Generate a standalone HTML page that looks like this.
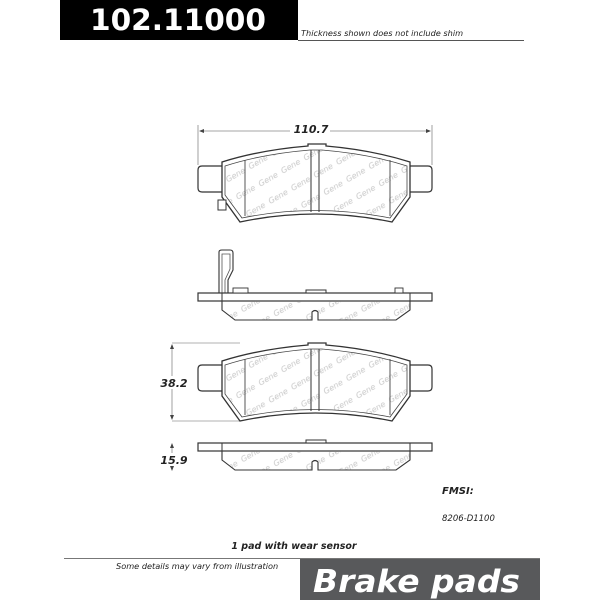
<!DOCTYPE html>
<html><head><style>
html,body{margin:0;padding:0;background:#fff;}
svg{display:block;}
text{font-family:"DejaVu Sans","Liberation Sans",sans-serif;}
</style></head><body>
<svg width="600" height="600" viewBox="0 0 600 600" xmlns="http://www.w3.org/2000/svg">
<defs>
<pattern id="wm" width="26" height="20" patternUnits="userSpaceOnUse" patternTransform="rotate(-30)">
<text x="2" y="12" font-size="8" font-style="italic" fill="#c8c8c8">Gene</text>
</pattern>
<g id="face">
  <path d="M222,166 L202,166 Q198,166 198,170 L198,188 Q198,192 202,192 L222,192" fill="none" stroke="#333" stroke-width="1.2"/>
  <path d="M410,166 L428,166 Q432,166 432,170 L432,188 Q432,192 428,192 L410,192" fill="none" stroke="#333" stroke-width="1.2"/>
  <path d="M222,162 Q260,150 308,146 L308,144 L326,144 L326,146 Q372,150 410,162 L410,197 L392,222 Q315,206 240,222 L222,197 Z" fill="#fff" stroke="#333" stroke-width="1.3"/>
  <path d="M225,166 Q262,154 310,150 L322,150 Q370,154 407,166 L407,195 L390,218 Q315,203 242,218 L225,195 Z" fill="url(#wm)" stroke="#444" stroke-width="0.8"/>
  <line x1="245" y1="160" x2="245" y2="216" stroke="#444" stroke-width="0.9"/>
  <line x1="390" y1="160" x2="390" y2="216" stroke="#444" stroke-width="0.9"/>
  <line x1="311" y1="150" x2="311" y2="212" stroke="#333" stroke-width="1"/>
  <line x1="319" y1="150" x2="319" y2="212" stroke="#333" stroke-width="1"/>
</g>
<g id="side">
  <rect x="198" y="293" width="234" height="8" fill="#fff" stroke="#333" stroke-width="1.2"/>
  <line x1="222" y1="293" x2="222" y2="301" stroke="#333"/>
  <line x1="410" y1="293" x2="410" y2="301" stroke="#333"/>
  <rect x="306" y="290" width="20" height="3" fill="#fff" stroke="#333"/>
  <path d="M222,301 L222,310 L235,320 L312,320 L312,312 Q315,309 318,312 L318,320 L396,320 L410,310 L410,301 Z" fill="url(#wm)" stroke="#333" stroke-width="1.1"/>
</g>
</defs>

<rect x="60" y="0" width="238" height="40" fill="#000"/>
<text x="178" y="30" font-size="29" font-weight="bold" fill="#fff" text-anchor="middle" textLength="176" lengthAdjust="spacingAndGlyphs">102.11000</text>
<line x1="298" y1="40.5" x2="524" y2="40.5" stroke="#555" stroke-width="1"/>
<text x="301" y="36" font-size="8.2" font-style="italic" fill="#222">Thickness shown does not include shim</text>

<line x1="198" y1="125" x2="198" y2="165" stroke="#888" stroke-width="0.8"/>
<line x1="432" y1="125" x2="432" y2="165" stroke="#888" stroke-width="0.8"/>
<line x1="200" y1="131" x2="430" y2="131" stroke="#888" stroke-width="0.8"/>
<path d="M199,131 l5,-2 l0,4 z M431,131 l-5,-2 l0,4 z" fill="#444"/>
<rect x="290" y="122" width="40" height="12" fill="#fff"/>
<text x="311" y="133" font-size="11" font-style="italic" font-weight="bold" fill="#222" text-anchor="middle">110.7</text>
<use href="#face"/>
<rect x="218" y="200" width="8" height="10" fill="#fff" stroke="#333" stroke-width="1"/>

<path d="M219,293 L219,252 Q219,250 222,250 L230,250 Q233,250 233,253 L233,270 L228,280 L228,293" fill="none" stroke="#333" stroke-width="1.1"/>
<path d="M222,293 L222,254 L230,254 L230,269 L225,280 L225,293" fill="none" stroke="#555" stroke-width="0.8"/>
<use href="#side"/>
<rect x="233" y="288" width="15" height="5" fill="#fff" stroke="#333" stroke-width="0.9"/>
<rect x="395" y="288" width="8" height="5" fill="#fff" stroke="#333" stroke-width="0.9"/>

<line x1="172" y1="343" x2="240" y2="343" stroke="#999" stroke-width="0.8"/>
<line x1="172" y1="421" x2="240" y2="421" stroke="#999" stroke-width="0.8"/>
<line x1="172" y1="345" x2="172" y2="419" stroke="#888" stroke-width="0.8"/>
<path d="M172,344 l-2,5 l4,0 z M172,420 l-2,-5 l4,0 z" fill="#444"/>
<rect x="158" y="376" width="30" height="13" fill="#fff"/>
<text x="174" y="387" font-size="11" font-style="italic" font-weight="bold" fill="#222" text-anchor="middle">38.2</text>
<use href="#face" transform="translate(0,199)"/>

<line x1="172" y1="444" x2="172" y2="470" stroke="#888" stroke-width="0.8"/>
<path d="M172,443 l-2,5 l4,0 z M172,471 l-2,-5 l4,0 z" fill="#444"/>
<rect x="158" y="453" width="30" height="13" fill="#fff"/>
<text x="174" y="464" font-size="11" font-style="italic" font-weight="bold" fill="#222" text-anchor="middle">15.9</text>
<use href="#side" transform="translate(0,150)"/>

<text x="442" y="494" font-size="10" font-style="italic" font-weight="bold" fill="#222">FMSI:</text>
<text x="442" y="521" font-size="8.5" font-style="italic" fill="#222">8206-D1100</text>
<text x="294" y="549" font-size="9.5" font-style="italic" font-weight="bold" fill="#222" text-anchor="middle">1 pad with wear sensor</text>
<line x1="64" y1="558.5" x2="540" y2="558.5" stroke="#777" stroke-width="1"/>
<text x="116" y="569" font-size="8.2" font-style="italic" fill="#222">Some details may vary from illustration</text>
<rect x="300" y="559" width="240" height="41" fill="#58595b"/>
<text x="313" y="592" font-size="31" font-style="italic" font-weight="bold" fill="#fff" textLength="207" lengthAdjust="spacingAndGlyphs">Brake pads</text>
</svg>
</body></html>
